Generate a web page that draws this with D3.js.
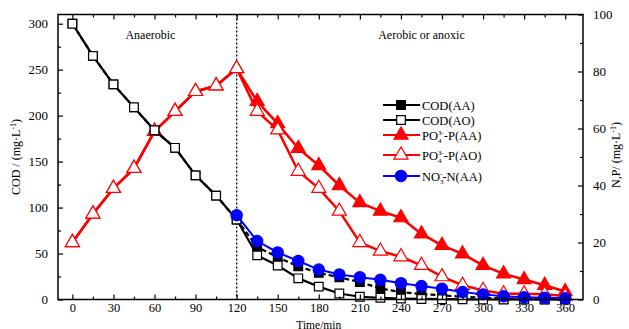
<!DOCTYPE html>
<html>
<head>
<meta charset="utf-8">
<script src="https://cdn.jsdelivr.net/npm/d3@7"></script>
<style>
  body { margin: 0; background: #fff; }
  svg text { font-family: "Liberation Serif", "Times New Roman", serif; }
</style>
</head>
<body>
<div id="chart"></div>
<script>
// time points (min)
var time = [0,15,30,45,60,75,90,105,120,135,150,165,180,195,210,225,240,255,270,285,300,315,330,345,360];
// COD, left axis (mg/L)
var codAA = [300,265,234,209,184,165,135,113,87,57,46,36,29,24,19,12,8,6,4.5,3,2,1,0.5,0.3,0.2];
var codAO = [300,265,234,209,184,165,135,113,87,48,37,23,14,6.5,3,1.8,1,0.6,0.3,0.2,0,0,0,0,0];
// PO4-P, right axis (mg/L)
var po4AA = [20,30,39,46,59,66,73,75,81,69.5,61.7,53,47,40,34,31,28.7,23,19,16,12,9,7,5,2.8];
var po4AO = [20,30,39,46,59,66,73,75,81,66,59.5,45,39,31,20,17,15,12,8,5,3.2,2,2,1.8,1.2];
// NO3-N, right axis, starts at 120 min
var no3Time = [120,135,150,165,180,195,210,225,240,255,270,285,300,315,330,345,360];
var no3AA = [29.6,20.5,16.5,13.5,10.5,8.8,7.8,6.9,5.7,4.7,3.8,2.6,1.8,1.1,0.8,0.6,0.4];

var xTicks = [0,30,60,90,120,150,180,210,240,270,300,330,360];
var yLeftTicks = [0,50,100,150,200,250,300];
var yRightTicks = [0,20,40,60,80,100];

var width = 629, height = 329;
var L = 58, R = 583, T = 14.5, B = 299.5;

var svg = d3.select("#chart").append("svg")
  .attr("width", width).attr("height", height);

var x = d3.scaleLinear().domain([-10.5, 373]).range([L, R]);
var yL = d3.scaleLinear().domain([0, 310]).range([B, T]);
var yR = d3.scaleLinear().domain([0, 100]).range([B, T]);

// phase divider
svg.append("line")
  .attr("x1", x(120)).attr("x2", x(120))
  .attr("y1", T).attr("y2", B)
  .attr("stroke", "#000").attr("stroke-width", 1.3)
  .attr("stroke-dasharray", "2,2");

svg.append("text").attr("x", x(57)).attr("y", 39)
  .attr("text-anchor", "middle").attr("font-size", 12).text("Anaerobic");
svg.append("text").attr("x", x(255)).attr("y", 39)
  .attr("text-anchor", "middle").attr("font-size", 12).text("Aerobic or anoxic");

function series(xs, ys, yScale, color, dash, width) {
  var line = d3.line().x(function(d, i) { return x(xs[i]); }).y(function(d) { return yScale(d); });
  svg.append("path").datum(ys)
    .attr("d", line)
    .attr("fill", "none")
    .attr("stroke", color)
    .attr("stroke-width", width)
    .attr("stroke-dasharray", dash);
}
function markers(xs, ys, yScale, type, size, stroke, fill) {
  var sym = d3.symbol().type(type).size(size);
  svg.append("g").selectAll("path").data(ys).enter().append("path")
    .attr("transform", function(d, i) { return "translate(" + x(xs[i]) + "," + yScale(d) + ")"; })
    .attr("d", sym)
    .attr("fill", fill)
    .attr("stroke", stroke)
    .attr("stroke-width", 1.2);
}

var red = "#ff0000", blue = "#0000ff";

series(time, po4AA, yR, red, null, 2.5);
markers(time, po4AA, yR, d3.symbolTriangle, 85, red, red);
series(time, po4AO, yR, red, null, 2.5);
markers(time, po4AO, yR, d3.symbolTriangle, 85, red, "#fff");

series(time, codAA, yL, "#000", "5,3", 2.2);
markers(time, codAA, yL, d3.symbolSquare, 75, "#000", "#000");
series(time, codAO, yL, "#000", null, 2.2);
markers(time, codAO, yL, d3.symbolSquare, 75, "#000", "#fff");

series(no3Time, no3AA, yR, blue, null, 2);
markers(no3Time, no3AA, yR, d3.symbolCircle, 100, blue, blue);

// frame
svg.append("rect").attr("x", L).attr("y", T).attr("width", R - L).attr("height", B - T)
  .attr("fill", "none").attr("stroke", "#000").attr("stroke-width", 1.5);

// axes with inward ticks
function styleAxis(g) {
  g.select(".domain").remove();
  g.selectAll("text").attr("font-size", 13).attr("fill", "#000")
    .style("font-family", "Liberation Serif, serif");
  g.selectAll(".tick line").attr("stroke", "#000").attr("stroke-width", 1.2);
}
var xMinor = d3.range(15, 361, 30);
var gx = svg.append("g").attr("transform", "translate(0," + B + ")")
  .call(d3.axisBottom(x).tickValues(xTicks).tickSize(-5).tickPadding(4));
styleAxis(gx);
gx.selectAll("text").attr("font-size", 12.5);
svg.append("g").attr("transform", "translate(0," + B + ")")
  .call(d3.axisBottom(x).tickValues(xMinor).tickSize(-3).tickFormat("")).call(styleAxis);
svg.append("g").attr("transform", "translate(0," + T + ")")
  .call(d3.axisTop(x).tickValues(xTicks).tickSize(-5).tickFormat("")).call(styleAxis);
svg.append("g").attr("transform", "translate(0," + T + ")")
  .call(d3.axisTop(x).tickValues(xMinor).tickSize(-3).tickFormat("")).call(styleAxis);

var gl = svg.append("g").attr("transform", "translate(" + L + ",0)")
  .call(d3.axisLeft(yL).tickValues(yLeftTicks).tickSize(-5).tickPadding(10));
styleAxis(gl);
svg.append("g").attr("transform", "translate(" + L + ",0)")
  .call(d3.axisLeft(yL).tickValues(d3.range(25, 301, 50)).tickSize(-3).tickFormat("")).call(styleAxis);

var gr = svg.append("g").attr("transform", "translate(" + R + ",0)")
  .call(d3.axisRight(yR).tickValues(yRightTicks).tickSize(-5).tickPadding(10));
styleAxis(gr);
svg.append("g").attr("transform", "translate(" + R + ",0)")
  .call(d3.axisRight(yR).tickValues(d3.range(10, 100, 20)).tickSize(-3).tickFormat("")).call(styleAxis);

// axis titles
svg.append("text").attr("x", x(180)).attr("y", 328.5)
  .attr("text-anchor", "middle").attr("font-size", 11.5).text("Time/min");

var lt = svg.append("text").attr("transform", "translate(20," + 157 + ") rotate(-90)")
  .attr("text-anchor", "middle").attr("font-size", 12);
lt.append("tspan").text("COD / (mg·L");
lt.append("tspan").attr("baseline-shift", "super").attr("font-size", 8).text("-1");
lt.append("tspan").text(")");

var rt = svg.append("text").attr("transform", "translate(620," + 155 + ") rotate(-90)")
  .attr("text-anchor", "middle").attr("font-size", 12);
rt.append("tspan").text("N,P/ (mg·L");
rt.append("tspan").attr("baseline-shift", "super").attr("font-size", 8).text("-1");
rt.append("tspan").text(")");

// legend
var legendNames = ["COD(AA)", "COD(AO)", "PO4-P(AA)", "PO4-P(AO)", "NO3-N(AA)"];
var legendRows = [105, 120, 135, 155, 176];
var legendColors = ["#000", "#000", red, red, blue];
var legendFills = ["#000", "#fff", red, "#fff", blue];
var legendSyms = [d3.symbolSquare, d3.symbolSquare, d3.symbolTriangle, d3.symbolTriangle, d3.symbolCircle];
var legendSizes = [75, 75, 85, 85, 100];

legendNames.forEach(function(name, i) {
  var yy = legendRows[i];
  svg.append("line").attr("x1", 383).attr("x2", 420).attr("y1", yy).attr("y2", yy)
    .attr("stroke", legendColors[i]).attr("stroke-width", 2);
  svg.append("path").attr("transform", "translate(401," + yy + ")")
    .attr("d", d3.symbol().type(legendSyms[i]).size(legendSizes[i]))
    .attr("fill", legendFills[i]).attr("stroke", legendColors[i]).attr("stroke-width", 1.2);
  var t = svg.append("text").attr("x", 422).attr("y", yy + 4.5).attr("font-size", 12.5);
  if (name.indexOf("PO4") === 0) {
    t.append("tspan").text("PO");
    t.append("tspan").attr("font-size", 7).attr("dy", 3).text("4");
    t.append("tspan").attr("font-size", 7).attr("dx", -3.5).attr("dy", -8).text("3-");
    t.append("tspan").attr("dy", 5).text(name.slice(3));
  } else if (name.indexOf("NO3") === 0) {
    t.append("tspan").text("NO");
    t.append("tspan").attr("font-size", 7).attr("dy", 3).text("3");
    t.append("tspan").attr("font-size", 7).attr("dx", -3.5).attr("dy", -8).text("-");
    t.append("tspan").attr("dy", 5).text(name.slice(3));
  } else {
    t.text(name);
  }
});
</script>
</body>
</html>
